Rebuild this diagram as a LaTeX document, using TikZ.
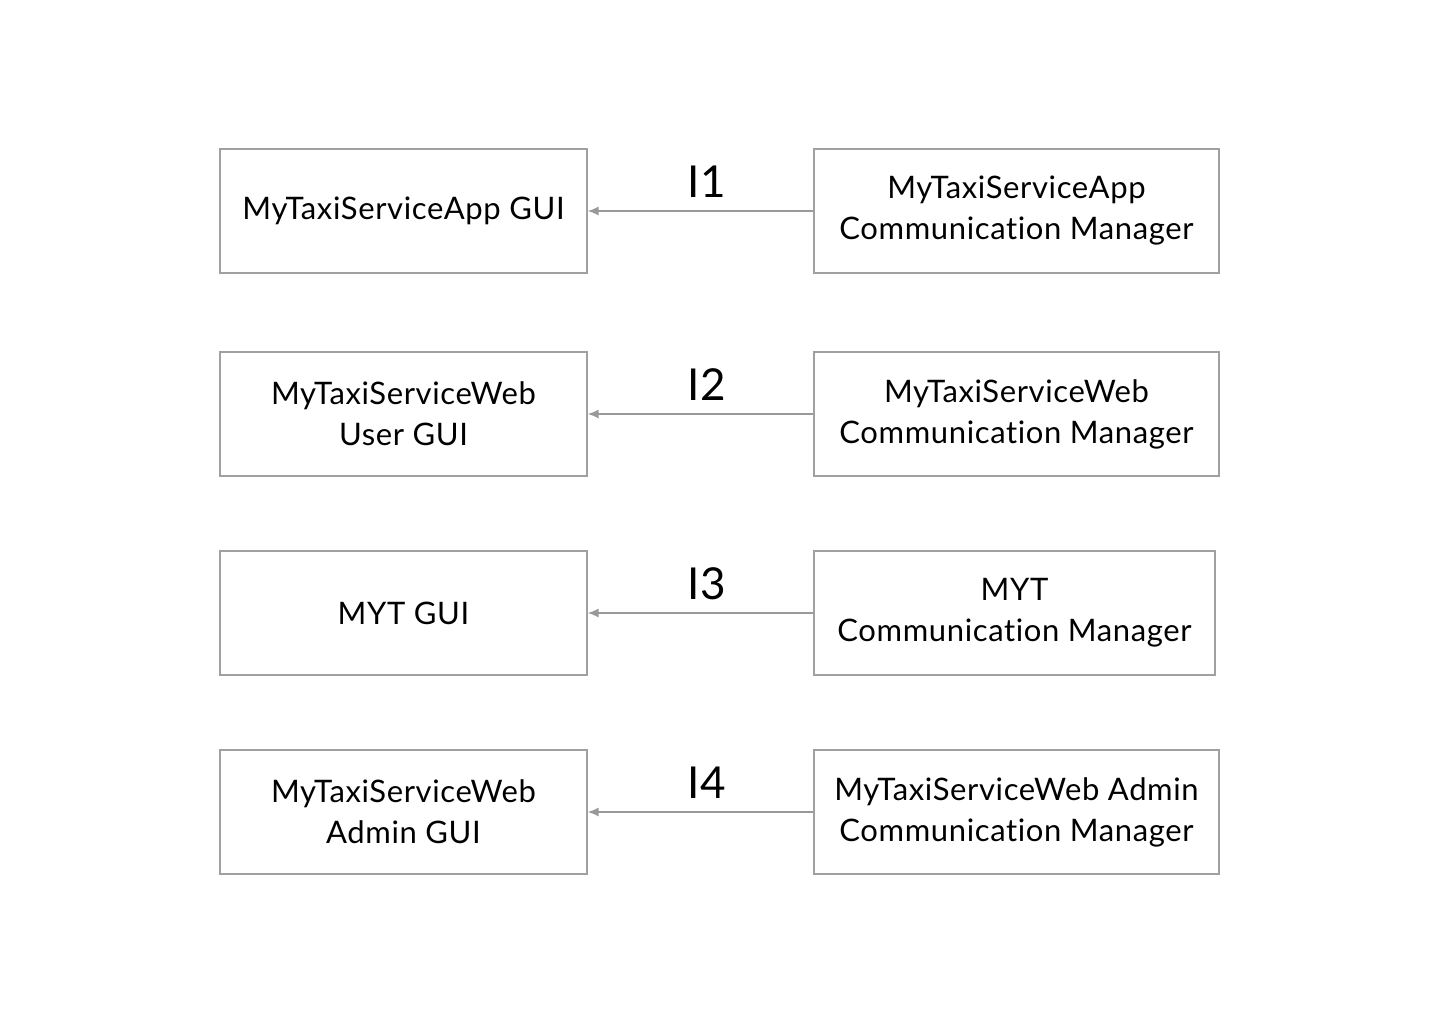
\documentclass[tikz,border=0pt]{standalone}
\usepackage{fontspec}
\setmainfont{Lato}[RawFeature=-liga, LetterSpace=2]
\usetikzlibrary{positioning, arrows.meta}

\definecolor{boxgray}{HTML}{A0A0A0}
\definecolor{linkgray}{HTML}{999999}

\begin{document}
\begin{tikzpicture}[x=0.5pt, y=-0.5pt,
  box/.style={draw=boxgray, line width=0.6pt, minimum height=62pt, inner sep=0pt,
    align=center, font=\fontsize{15.5}{20.5}\selectfont},
  guibox/.style={box, minimum width=183.5pt},
  cmbox/.style={box, minimum width=202.5pt},
  link/.style={draw=linkgray, line width=0.8pt, -{Latex[length=5.5pt, width=4.5pt]}},
  iface/.style={font=\fontsize{22}{24}\selectfont, above=3pt, xshift=3pt}]

\useasboundingbox (0,0) rectangle (1440,1024);

% GUI side
\node[guibox] (appgui) at (403.5,211) {MyTaxiServiceApp GUI};
\node[guibox] (webgui) at (403.5,414) {MyTaxiServiceWeb\\User GUI};
\node[guibox] (mytgui) at (403.5,613) {MYT GUI};
\node[guibox] (admgui) at (403.5,812) {MyTaxiServiceWeb\\Admin GUI};

% Communication managers
\node[cmbox] (appcm) at (1016.5,211) {MyTaxiServiceApp\\Communication Manager};
\node[cmbox] (webcm) at (1016.5,414) {MyTaxiServiceWeb\\Communication Manager};
\node[cmbox, minimum width=200.5pt] (mytcm) at (1014.5,613) {MYT\\Communication Manager};
\node[cmbox] (admcm) at (1016.5,812) {MyTaxiServiceWeb Admin\\Communication Manager};

% Interfaces
\draw[link] (appcm.west) -- node[iface] {I1} (appgui.east);
\draw[link] (webcm.west) -- node[iface] {I2} (webgui.east);
\draw[link] (mytcm.west) -- node[iface] {I3} (mytgui.east);
\draw[link] (admcm.west) -- node[iface] {I4} (admgui.east);

\end{tikzpicture}
\end{document}
